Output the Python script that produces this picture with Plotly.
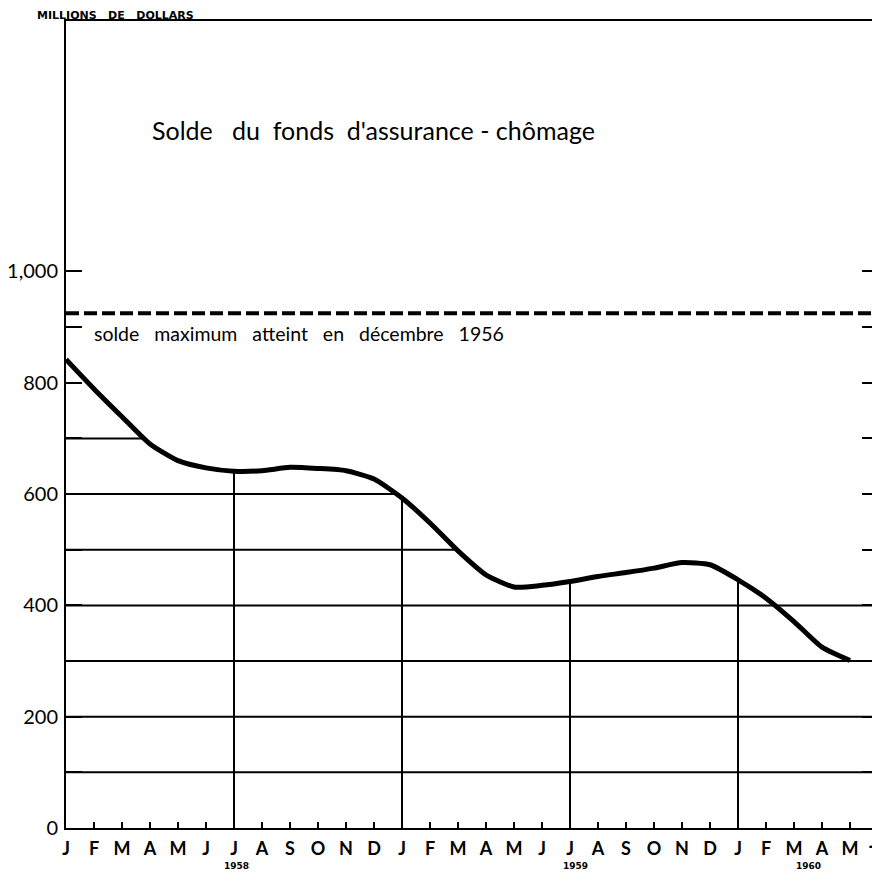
import numpy as np
import plotly.graph_objects as go

# ---- data ----
month_labels = ["J", "F", "M", "A", "M", "J", "J", "A", "S", "O", "N", "D",
                "J", "F", "M", "A", "M", "J", "J", "A", "S", "O", "N", "D",
                "J", "F", "M", "A", "M", "J"]
# Balance of the unemployment insurance fund, millions of dollars (Jan 1958 - May 1960)
balance = [842, 789, 739, 690, 660, 647, 641, 642, 648, 646, 642, 627,
           593, 548, 498, 455, 433, 436, 443, 452, 459, 467, 477, 473,
           446, 413, 371, 325, 301]
max_balance = 925           # maximum reached in December 1956
year_labels = ["1958", "1959", "1960"]
year_positions = [6.1, 18.2, 26.5]
full_grid_levels = [100, 200, 300, 400]
clipped_grid_levels = [500, 600, 700]
vertical_grid_months = [6, 12, 18, 24]

x = np.arange(len(balance))
y = np.array(balance, dtype=float)

FONT = "Lato"
# page body has an 8px margin, so the figure is sized to fit the window
W, H = 872, 867
L, R, T, B = 58, 2, 13, 47
PW, PH = W - L - R, H - T - B
N = len(month_labels)

fig = go.Figure()

shapes = []
for lv in full_grid_levels:
    shapes.append(dict(type="line", xref="x", yref="y", x0=0, x1=N - 1,
                       y0=lv, y1=lv, line=dict(color="black", width=2), layer="below"))
for lv in clipped_grid_levels:
    idx = np.where(y < lv)[0][0]
    xc = np.interp(lv, [y[idx], y[idx - 1]], [x[idx], x[idx - 1]])
    shapes.append(dict(type="line", xref="x", yref="y", x0=0, x1=float(xc),
                       y0=lv, y1=lv, line=dict(color="black", width=2), layer="below"))
for m in vertical_grid_months:
    shapes.append(dict(type="line", xref="x", yref="y", x0=m, x1=m,
                       y0=0, y1=balance[m], line=dict(color="black", width=2), layer="below"))

fig.add_trace(go.Scatter(x=[0, N - 1], y=[max_balance, max_balance],
                         mode="lines", line=dict(color="black", width=4, dash="13px,5px"),
                         hoverinfo="skip", showlegend=False))
fig.add_trace(go.Scatter(x=x, y=balance, mode="lines",
                         line=dict(color="black", width=5, shape="spline", smoothing=0.6),
                         showlegend=False))

annotations = [
    dict(text="Solde&nbsp;&nbsp; du &nbsp;fonds &nbsp;d'assurance - chômage",
         xref="paper", yref="paper", x=(142 - L) / PW, y=(H - B - 122) / PH,
         xanchor="left", yanchor="middle", showarrow=False,
         font=dict(family=FONT, size=25, color="black")),
    dict(text="solde &nbsp;&nbsp;maximum &nbsp;&nbsp;atteint &nbsp;&nbsp;en &nbsp;&nbsp;décembre &nbsp;&nbsp;1956",
         xref="paper", yref="y", x=(84 - L) / PW, y=max_balance,
         xanchor="left", yanchor="top", yshift=-7, showarrow=False,
         font=dict(family=FONT, size=19.5, color="black")),
    dict(text="<b>MILLIONS&nbsp;&nbsp; DE&nbsp;&nbsp; DOLLARS</b>", xref="paper", yref="paper",
         x=(27 - L) / PW, y=1 + T / PH, xanchor="left", yanchor="top", yshift=1,
         showarrow=False, font=dict(family="DejaVu Sans", size=11, color="black")),
    # last month label sits on the right edge (the axis drops it as it overflows)
    dict(text="<b>" + month_labels[-1] + "</b>", xref="paper", yref="paper", x=1, y=0,
         xanchor="right", yanchor="top", xshift=0, yshift=-1, showarrow=False,
         borderpad=0, font=dict(family=FONT, size=18, color="black")),
]
for yl, yp in zip(year_labels, year_positions):
    annotations.append(dict(text="<b>" + yl + "</b>", xref="x", yref="paper", x=yp, y=0,
                            xanchor="center", yanchor="top", yshift=-31, showarrow=False,
                            font=dict(family="DejaVu Sans", size=9, color="black")))

yticks = list(range(0, 1001, 100))
yticktext = [("1,000" if v == 1000 else str(v)) if v % 200 == 0 else "" for v in yticks]

fig.update_layout(
    width=W, height=H,
    margin=dict(l=L, r=R, t=T, b=B),
    paper_bgcolor="white", plot_bgcolor="white",
    shapes=shapes, annotations=annotations,
    xaxis=dict(range=[0, N - 1], tickvals=list(range(N - 1)),
               ticktext=month_labels[:-1], showgrid=False, zeroline=False, automargin=False,
               showline=True, linecolor="black", linewidth=2, mirror=True,
               ticks="inside", ticklen=6, tickwidth=2, tickcolor="black",
               tickfont=dict(family=FONT, size=18, color="black", weight=700),
               ticklabelstandoff=3),
    yaxis=dict(range=[0, 1450], tickvals=yticks, ticktext=yticktext,
               showgrid=False, zeroline=False, automargin=False,
               showline=True, linecolor="black", linewidth=2, mirror="ticks",
               ticks="inside", ticklen=16, tickwidth=2, tickcolor="black",
               tickfont=dict(family=FONT, size=20, color="black"),
               ticklabelstandoff=2),
)

fig.write_html("out.html")
